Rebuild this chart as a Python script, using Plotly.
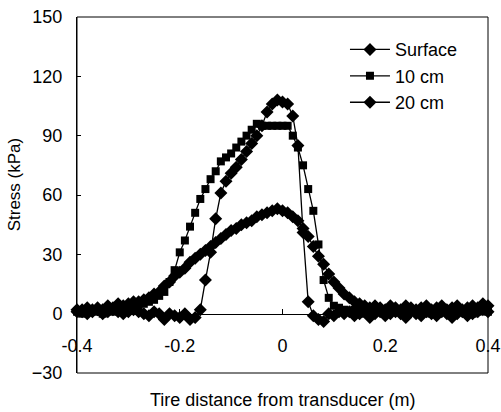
import plotly.graph_objects as go

# tire distance from transducer (m)
distance = [-0.40, -0.39, -0.38, -0.37, -0.36, -0.35, -0.34, -0.33, -0.32, -0.31,
            -0.30, -0.29, -0.28, -0.27, -0.26, -0.25, -0.24, -0.23, -0.22, -0.21,
            -0.20, -0.19, -0.18, -0.17, -0.16, -0.15, -0.14, -0.13, -0.12, -0.11,
            -0.10, -0.09, -0.08, -0.07, -0.06, -0.05, -0.04, -0.03, -0.02, -0.01,
            0.00, 0.01, 0.02, 0.03, 0.04, 0.05, 0.06, 0.07, 0.08, 0.09,
            0.10, 0.11, 0.12, 0.13, 0.14, 0.15, 0.16, 0.17, 0.18, 0.19,
            0.20, 0.21, 0.22, 0.23, 0.24, 0.25, 0.26, 0.27, 0.28, 0.29,
            0.30, 0.31, 0.32, 0.33, 0.34, 0.35, 0.36, 0.37, 0.38, 0.39, 0.40]

# stress (kPa)
surface = [1, 2, 0, 1, 2, 0, 1, 2, 1, 0,
           1, 2, 1, 0, -1, 1, 0, -3, 0, -1,
           -2, 0, -3, -2, 2, 17, 31, 48, 61, 67,
           71, 74, 78, 82, 86, 90, 95, 102, 106, 108,
           107, 106, 100, 85, 41, 6, -1, -3, -4, 0,
           -1, 1, 0, 1, -1, 0, 1, -2, 0, 1,
           -1, 0, 1, 0, -2, 1, 0, -1, 1, 0,
           -1, 1, 0, -2, 0, 1, -1, 0, 1, 2, 1]

cm10 = [1, 0, 1, 2, 1, 0, 2, 1, 2, 3,
        2, 3, 4, 5, 6, 7, 9, 11, 16, 22,
        31, 37, 44, 51, 58, 63, 68, 72, 77, 79,
        81, 84, 87, 90, 93, 96, 95, 95, 95, 95,
        95, 95, 90, 84, 75, 63, 52, 35, 17, 8,
        4, 3, 2, 1, 2, 1, 0, 1, 2, 1,
        0, 1, 2, 1, 0, 1, 2, 1, 1, 0,
        1, 2, 1, 0, 1, 2, 1, 0, 1, 2, 1]

cm20 = [2, 1, 3, 2, 3, 2, 4, 3, 5, 4,
        5, 6, 6, 7, 8, 10, 11, 14, 16, 19,
        21, 23, 26, 28, 30, 32, 34, 36, 38, 40,
        42, 43, 45, 46, 47, 49, 50, 51, 52, 53,
        52, 51, 49, 47, 43, 39, 34, 29, 25, 20,
        16, 13, 10, 8, 6, 5, 4, 3, 4, 3,
        2, 4, 3, 2, 4, 3, 2, 3, 4, 2,
        3, 4, 2, 3, 4, 2, 3, 4, 3, 5, 4]

series = [("Surface", surface, "diamond", 10),
          ("10 cm", cm10, "square", 8),
          ("20 cm", cm20, "diamond", 10)]

x_ticks = [-0.4, -0.2, 0, 0.2, 0.4]
x_tick_text = ["-0.4", "-0.2", "0", "0.2", "0.4"]
y_ticks = [-30, 0, 30, 60, 90, 120, 150]

font = "Liberation Sans, Arial, sans-serif"

fig = go.Figure()
for name, vals, sym, size in series:
    fig.add_trace(go.Scatter(x=distance, y=vals, name=name, mode="lines+markers",
                             line=dict(color="black", width=1.3),
                             marker=dict(symbol=sym, size=size, color="black"),
                             cliponaxis=False))

fig.update_layout(
    width=501, height=412,
    margin=dict(l=77, r=13, t=17, b=39),
    paper_bgcolor="white", plot_bgcolor="white",
    font=dict(family=font, size=18, color="black"),
    showlegend=True,
    legend=dict(x=0.652, y=0.96, xanchor="left", yanchor="top",
                font=dict(size=18), itemwidth=40, bgcolor="rgba(0,0,0,0)",
                tracegroupgap=0),
    xaxis=dict(range=[-0.4, 0.4], anchor="free", position=1 / 6, automargin=False,
               showline=True, linecolor="black", linewidth=1,
               ticks="inside", ticklen=5, tickcolor="black",
               tickvals=x_ticks, ticktext=x_tick_text,
               ticklabelstandoff=16, showgrid=False, zeroline=False),
    yaxis=dict(range=[-30, 150], tickvals=y_ticks, automargin=False,
               showline=True, linecolor="black", linewidth=1,
               ticks="inside", ticklen=4, tickcolor="black",
               ticklabelstandoff=10, showgrid=False, zeroline=False),
    shapes=[dict(type="rect", xref="paper", yref="paper", x0=0, x1=1, y0=0, y1=1,
                 line=dict(color="black", width=1), layer="below")],
    annotations=[
        dict(text="Tire distance from transducer (m)", xref="paper", yref="paper",
             x=0.5, y=0, yshift=-27, xanchor="center", yanchor="middle",
             showarrow=False, font=dict(size=18)),
        dict(text="Stress (kPa)", xref="paper", yref="paper", x=0, xshift=-63,
             y=0.53, textangle=-90, xanchor="center", yanchor="middle",
             showarrow=False, font=dict(size=17)),
    ],
)

fig.write_html("out.html", config={"displayModeBar": False},
               post_script="document.body.style.margin='0';")
